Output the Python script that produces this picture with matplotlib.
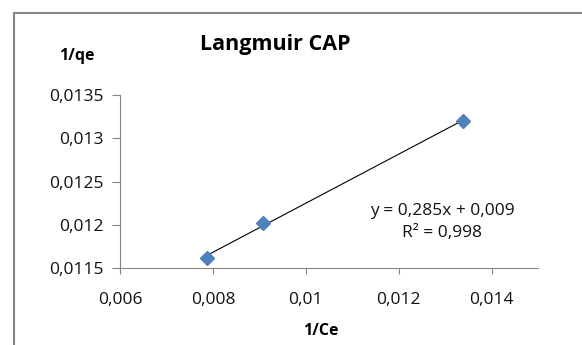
import matplotlib.pyplot as plt
import numpy as np
from matplotlib.ticker import FuncFormatter
from matplotlib.lines import Line2D

plt.rcParams['font.family'] = ['Open Sans', 'DejaVu Sans']

# data
inv_ce = [0.00787, 0.00908, 0.01338]
inv_qe = [0.01162, 0.01202, 0.01320]
x_ticks = [0.006, 0.008, 0.010, 0.012, 0.014]
y_ticks = [0.0115, 0.0120, 0.0125, 0.0130, 0.0135]

W, H = 582, 345
fig = plt.figure(figsize=(5.82, 3.45), dpi=100)
ax = fig.add_axes([120/W, 1-268/H, 418/W, 173/H])

ax.plot(inv_ce, inv_qe, 'D', color='#4F81BD', markersize=7, zorder=3)

# linear trendline
k, b = np.polyfit(inv_ce, inv_qe, 1)
xs = np.array([min(inv_ce), max(inv_ce)])
ax.plot(xs, k*xs + b, color='black', lw=0.8, zorder=2)

ax.set_xlim(0.006, 0.015)
ax.set_ylim(0.0115, 0.0135)
ax.set_xticks(x_ticks)
ax.set_yticks(y_ticks)
fmt = FuncFormatter(lambda v, p: f"{v:g}".replace('.', ','))
ax.xaxis.set_major_formatter(fmt)
ax.yaxis.set_major_formatter(fmt)

for s in ['top', 'right']:
    ax.spines[s].set_visible(False)
for s in ['left', 'bottom']:
    ax.spines[s].set_color('#868686')
    ax.spines[s].set_linewidth(0.8)
ax.tick_params(axis='x', colors='#868686', labelcolor='#111111', length=4, pad=13, labelsize=12.5)
ax.tick_params(axis='y', colors='#868686', labelcolor='#111111', length=5.5, pad=6, labelsize=12.5)

fig.text(275/W, 1-50/H, 'Langmuir CAP', fontsize=15.5, fontweight='bold', ha='center', va='baseline')
fig.text(77/W, 1-60/H, '1/qe', fontsize=11.5, fontweight='bold', ha='center', va='baseline')
fig.text(321/W, 1-335/H, '1/Ce', fontsize=11.5, fontweight='bold', ha='center', va='baseline')
fig.text(442/W, 1-215/H, 'y = 0,285x + 0,009', fontsize=12.5, ha='center', va='baseline', color='#111111')
fig.text(442/W, 1-237/H, 'R² = 0,998', fontsize=12.5, ha='center', va='baseline', color='#111111')

# chart area border (cut off at right and bottom)
fig.add_artist(Line2D([14/W, 1], [1-13/H, 1-13/H], color='#868686', lw=1.5, transform=fig.transFigure))
fig.add_artist(Line2D([14/W, 14/W], [1-13/H, 0], color='#868686', lw=1.5, transform=fig.transFigure))

fig.savefig('out.png', dpi=100)
